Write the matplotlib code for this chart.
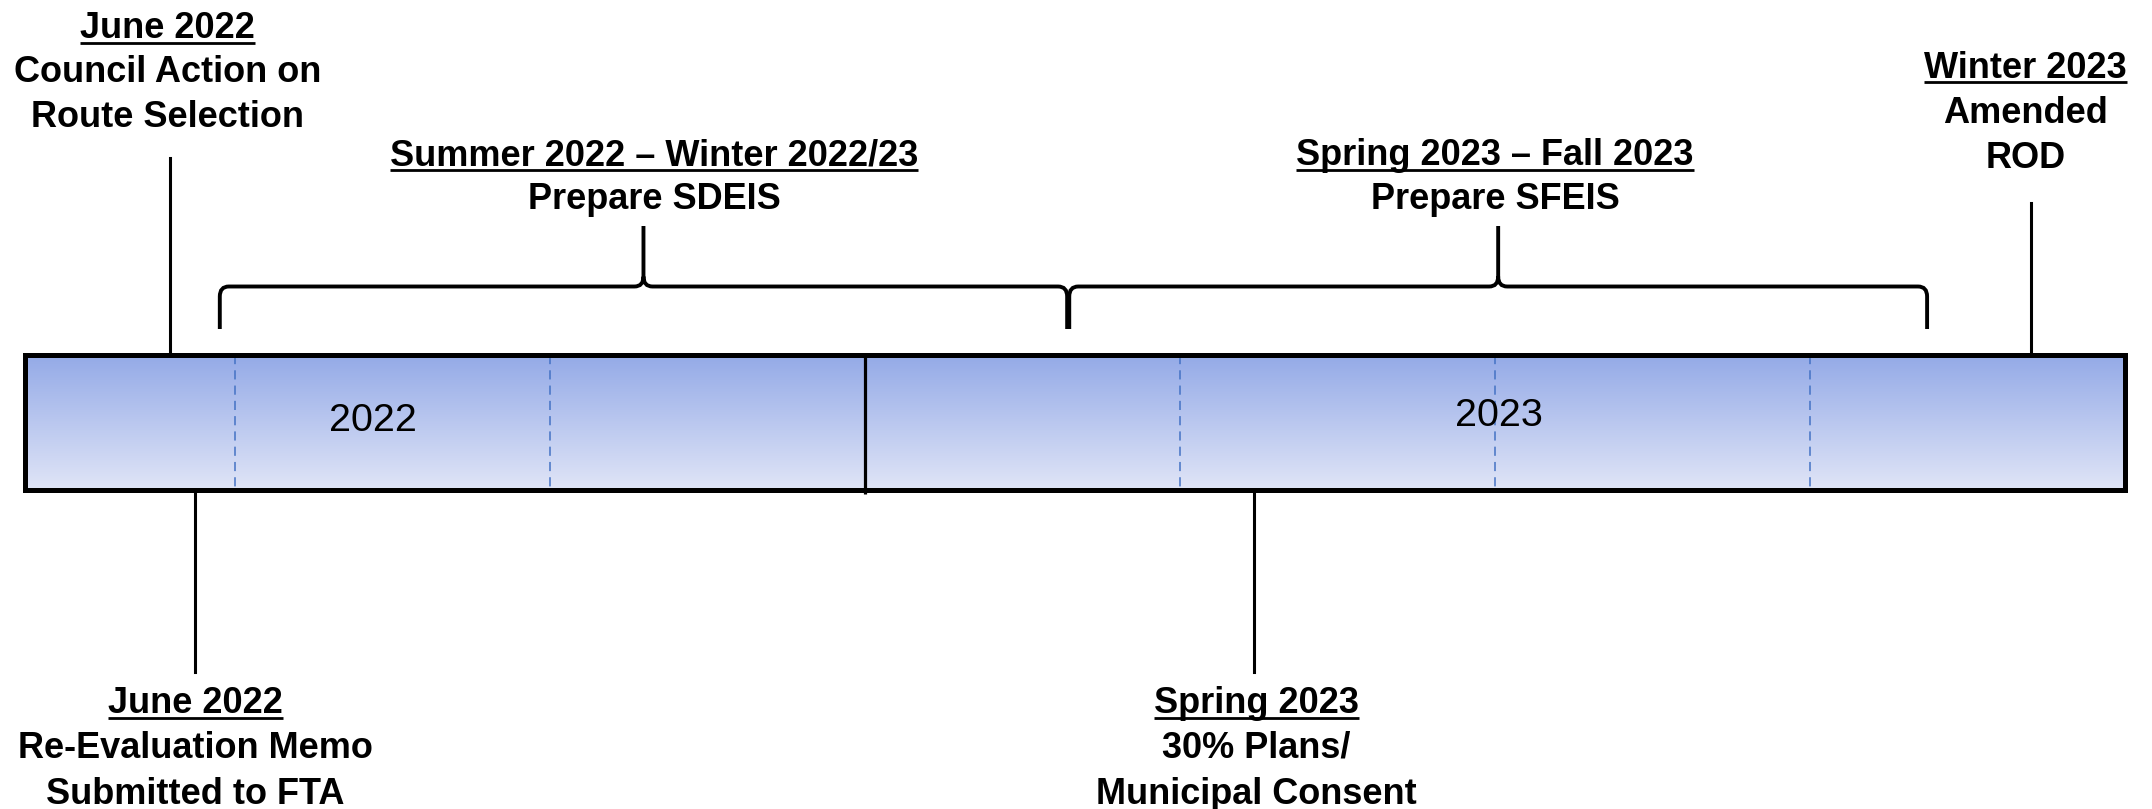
import matplotlib
matplotlib.use("Agg")
import matplotlib.pyplot as plt
import numpy as np
from matplotlib.path import Path
from matplotlib.patches import PathPatch, Rectangle

# ---------------- data (x in months since Jan 2022) ----------------
bar_start, bar_end = 4.0, 24.0
year_labels = ["2022", "2023"]
year_bounds = [12.0]                     # boundary between years
year_label_month = [7.32, 18.04]
quarter_marks = [6.0, 9.0, 15.0, 18.0, 21.0]

top_event_month = [5.39, 23.11]
top_event_date = ["June 2022", "Winter 2023"]
top_event_text = [["Council Action on", "Route Selection"], ["Amended", "ROD"]]

bottom_event_month = [5.62, 15.71]
bottom_event_date = ["June 2022", "Spring 2023"]
bottom_event_text = [["Re-Evaluation Memo", "Submitted to FTA"],
                     ["30% Plans/", "Municipal Consent"]]

phase_start = [5.86, 13.95]
phase_end = [13.93, 22.12]
phase_date = ["Summer 2022 \u2013 Winter 2022/23", "Spring 2023 \u2013 Fall 2023"]
phase_name = ["Prepare SDEIS", "Prepare SFEIS"]

# ---------------- figure ----------------
W, H = 2152, 809
fig = plt.figure(figsize=(W / 100, H / 100), dpi=100)
ax = fig.add_axes([0, 0, 1, 1])
px_per_month = 105.0
x_left = bar_start - 24.5 / px_per_month
x_right = x_left + W / px_per_month
ax.set_xlim(x_left, x_right)
ax.set_ylim(H, 0)
ax.axis("off")

FONT = "Liberation Sans"
BOLD_SIZE = 26
YEAR_SIZE = 28.4

bar_top, bar_bot = 355.0, 489.5

# gradient fill
top_c = np.array([148, 170, 231]) / 255
bot_c = np.array([224, 229, 247]) / 255
t = np.linspace(0, 1, 256)[:, None]
grad = (top_c[None, :] * (1 - t) + bot_c[None, :] * t)[:, None, :]
ax.imshow(grad, extent=(bar_start, bar_end, bar_bot, bar_top), origin="upper",
          aspect="auto", zorder=1, interpolation="bilinear")

for q in quarter_marks:
    ax.plot([q, q], [bar_top, bar_bot], color="#4472C4", lw=1.1,
            dashes=(6, 4), zorder=2)
for b in year_bounds:
    ax.plot([b, b], [bar_top, bar_bot + 4], color="black", lw=2.3, zorder=3,
            solid_capstyle="butt")
ax.add_patch(Rectangle((bar_start, bar_top), bar_end - bar_start, bar_bot - bar_top,
                       fill=False, ec="black", lw=3.6, zorder=4, joinstyle="miter"))

for lab, m, yc in zip(year_labels, year_label_month, [421, 416]):
    ax.text(m, yc, lab, fontsize=YEAR_SIZE, family=FONT, ha="center", va="center",
            zorder=5)

underline_jobs = []


def label_block(xm, baselines, date, lines):
    t0 = ax.text(xm, baselines[0], date, fontsize=BOLD_SIZE, family=FONT,
                 weight="bold", ha="center", va="baseline")
    underline_jobs.append((t0, baselines[0]))
    for yb, s in zip(baselines[1:], lines):
        ax.text(xm, yb, s, fontsize=BOLD_SIZE, family=FONT, weight="bold",
                ha="center", va="baseline")


# top events
top_baselines = [[38, 82, 127], [77.5, 123, 168]]
top_line_top = [158, 203]
top_text_shift = [-0.03, -0.05]
for m, d, txt, bl, lt, sh in zip(top_event_month, top_event_date, top_event_text,
                                 top_baselines, top_line_top, top_text_shift):
    label_block(m + sh, bl, d, txt)
    ax.plot([m, m], [lt, bar_top], color="black", lw=2.2, zorder=3)

# bottom events
bot_baselines = [713, 758, 803.5]
for m, d, txt, sh in zip(bottom_event_month, bottom_event_date, bottom_event_text,
                         [0.01, 0.02]):
    label_block(m + sh, bot_baselines, d, txt)
    ax.plot([m, m], [bar_bot, 672], color="black", lw=2.2, zorder=3)

# braces
y_h, y_tip, y_end = 286.5, 226.0, 329.0
rx = 9.0 / px_per_month
ry = 10.0


def brace(xa, xb):
    xm = 0.5 * (xa + xb)
    verts = [(xa, y_end), (xa, y_h + ry), (xa, y_h), (xa + rx, y_h),
             (xm - rx, y_h), (xm, y_h), (xm, y_h - ry), (xm, y_tip),
             (xm, y_h - ry), (xm, y_h), (xm + rx, y_h),
             (xb - rx, y_h), (xb, y_h), (xb, y_h + ry), (xb, y_end)]
    codes = [Path.MOVETO, Path.LINETO, Path.CURVE3, Path.CURVE3,
             Path.LINETO, Path.CURVE3, Path.CURVE3, Path.LINETO,
             Path.MOVETO, Path.CURVE3, Path.CURVE3,
             Path.LINETO, Path.CURVE3, Path.CURVE3, Path.LINETO]
    ax.add_patch(PathPatch(Path(verts, codes), fill=False, ec="black", lw=2.8,
                           zorder=3, capstyle="butt"))
    return xm


for xa, xb, d, n, sh in zip(phase_start, phase_end, phase_date, phase_name,
                            [0.10, -0.03]):
    xm = brace(xa, xb)
    label_block(xm + sh, [165, 209], d, [n])

# underlines
fig.canvas.draw()
r = fig.canvas.get_renderer()
inv = ax.transData.inverted()
for tobj, yb in underline_jobs:
    bb = tobj.get_window_extent(renderer=r)
    (x0, _), (x1, _) = inv.transform([(bb.x0, 0), (bb.x1, 0)])
    ax.plot([x0, x1], [yb + 4.5, yb + 4.5], color="black", lw=2.0,
            solid_capstyle="butt")

fig.savefig("out.png", dpi=100)
